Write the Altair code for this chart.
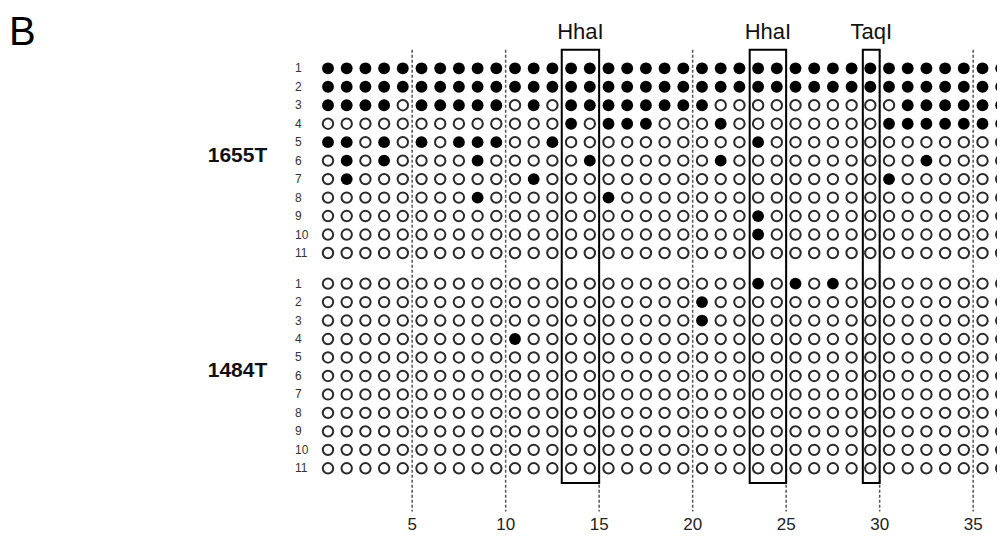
import altair as alt
import pandas as pd

# ---------------- data ----------------
sites = list(range(1, 38))
clone_ids = list(range(1, 12))
samples = ["1655T", "1484T"]

# 1 = methylated (filled), 0 = unmethylated (open); groups of five CpG sites
patterns_1655T = [
    "11111 11111 11111 11111 11111 11111 11111 11",
    "11111 11111 11111 11111 11111 11111 11111 11",
    "11110 11111 01011 11111 10000 00000 01111 11",
    "00000 00000 00010 11100 01000 00000 11111 11",
    "11010 10111 00100 00000 00010 00000 00000 00",
    "01010 00010 00001 00000 01000 00000 00100 00",
    "01000 00000 01000 00000 00000 00000 10000 00",
    "00000 00010 00000 10000 00000 00000 00000 00",
    "00000 00000 00000 00000 00010 00000 00000 00",
    "00000 00000 00000 00000 00010 00000 00000 00",
    "00000 00000 00000 00000 00000 00000 00000 00",
]
patterns_1484T = [
    "00000 00000 00000 00000 00010 10100 00000 00",
    "00000 00000 00000 00000 10000 00000 00000 00",
    "00000 00000 00000 00000 10000 00000 00000 00",
    "00000 00000 10000 00000 00000 00000 00000 00",
    "00000 00000 00000 00000 00000 00000 00000 00",
    "00000 00000 00000 00000 00000 00000 00000 00",
    "00000 00000 00000 00000 00000 00000 00000 00",
    "00000 00000 00000 00000 00000 00000 00000 00",
    "00000 00000 00000 00000 00000 00000 00000 00",
    "00000 00000 00000 00000 00000 00000 00000 00",
    "00000 00000 00000 00000 00000 00000 00000 00",
]

separator_pos = [5.5, 10.5, 15.5, 20.5, 25.5, 30.5, 35.5]
separator_labels = ["5", "10", "15", "20", "25", "30", "35"]

enzyme_names = ["HhaI", "HhaI", "TaqI"]
enzyme_start = [13.5, 23.55, 29.6]
enzyme_end = [15.5, 25.5, 30.5]

# vertical offset (in row units) of each sample block
sample_offset = {"1655T": 0.0, "1484T": 11.657}

# ---------------- tables ----------------
records = []
for sample, pats in zip(samples, [patterns_1655T, patterns_1484T]):
    for clone, pat in zip(clone_ids, pats):
        bits = pat.replace(" ", "")
        assert len(bits) == len(sites)
        for site, b in zip(sites, bits):
            records.append({
                "sample": sample,
                "clone": clone,
                "site": site,
                "methylated": int(b),
                "row": clone + sample_offset[sample],
            })
cpg = pd.DataFrame(records)

rows = pd.DataFrame([
    {"sample": s, "clone": c, "row": c + sample_offset[s]}
    for s in samples for c in clone_ids
])
groups = pd.DataFrame({
    "sample": samples,
    "row": [5.75 + sample_offset[s] for s in samples],
})
seps = pd.DataFrame({"pos": separator_pos, "label": separator_labels})
enz = pd.DataFrame({"name": enzyme_names, "start": enzyme_start, "end": enzyme_end})
panel = pd.DataFrame({"panel": ["B"]})

# ---------------- scales ----------------
W, H = 989, 526
FONT = "Liberation Sans, Arial, sans-serif"
xs = alt.Scale(domain=[-16.112, 36.775], nice=False, zero=False)
ys = alt.Scale(domain=[-2.265, 26.214], reverse=True, nice=False, zero=False)


def X(field, **kw):
    return alt.X(field, type="quantitative", scale=xs, axis=None, **kw)


def Y(field):
    return alt.Y(field, type="quantitative", scale=ys, axis=None)


def Yd(v):
    return alt.Y(datum=v, type="quantitative", scale=ys, axis=None)


rules = alt.Chart(seps).mark_rule(
    color="#555555", strokeWidth=1.5, strokeDash=[3, 2]
).encode(
    x=X("pos"),
    y=Yd(0.0),
    y2=alt.Y2(datum=25.0),
)

tick_text = alt.Chart(seps).mark_text(
    font=FONT, fontSize=17, color="#222222", baseline="alphabetic", align="center"
).encode(
    x=X("pos"),
    y=Yd(25.997),
    text="label:N",
)

open_pts = alt.Chart(cpg).transform_filter("datum.methylated == 0").mark_point(
    shape="circle", filled=False, fill="white", stroke="#2b2b2b",
    strokeWidth=2, size=108, opacity=1,
).encode(x=X("site"), y=Y("row"))

filled_pts = alt.Chart(cpg).transform_filter("datum.methylated == 1").mark_circle(
    color="black", size=140, opacity=1,
).encode(x=X("site"), y=Y("row"))

boxes = alt.Chart(enz).mark_rect(
    fillOpacity=0, stroke="black", strokeWidth=2
).encode(
    x=X("start"),
    x2="end",
    y=Yd(0.0),
    y2=alt.Y2(datum=23.45),
)

enz_text = alt.Chart(enz).transform_calculate(
    mid="(datum.start + datum.end) / 2"
).mark_text(
    font=FONT, fontSize=22, color="#111111", baseline="alphabetic", align="center"
).encode(
    x=X("mid"),
    y=Yd(-0.57),
    text="name:N",
)

row_text = alt.Chart(rows).mark_text(
    font=FONT, fontSize=12, color="#333333", baseline="middle", align="left"
).encode(
    x=alt.value(287),
    y=Y("row"),
    text="clone:N",
)

group_text = alt.Chart(groups).mark_text(
    font=FONT, fontSize=21, fontWeight="bold", color="#111111",
    baseline="middle", align="center",
).encode(
    x=alt.value(229.5),
    y=Y("row"),
    text="sample:N",
)

panel_text = alt.Chart(panel).mark_text(
    font=FONT, fontSize=40, color="black", baseline="alphabetic", align="left"
).encode(
    x=alt.value(1),
    y=alt.value(36.5),
    text="panel:N",
)

chart = alt.layer(
    rules, tick_text, open_pts, filled_pts, boxes, enz_text,
    row_text, group_text, panel_text,
).properties(
    width=W, height=H,
    autosize=alt.AutoSizeParams(type="none"),
    padding=0,
    view=alt.ViewBackground(stroke="transparent", strokeWidth=0, strokeOpacity=0),
).configure_view(
    stroke="transparent", strokeWidth=0, strokeOpacity=0
).configure(background="white")

chart.save("out.html", embed_options={"renderer": "svg", "actions": False})
